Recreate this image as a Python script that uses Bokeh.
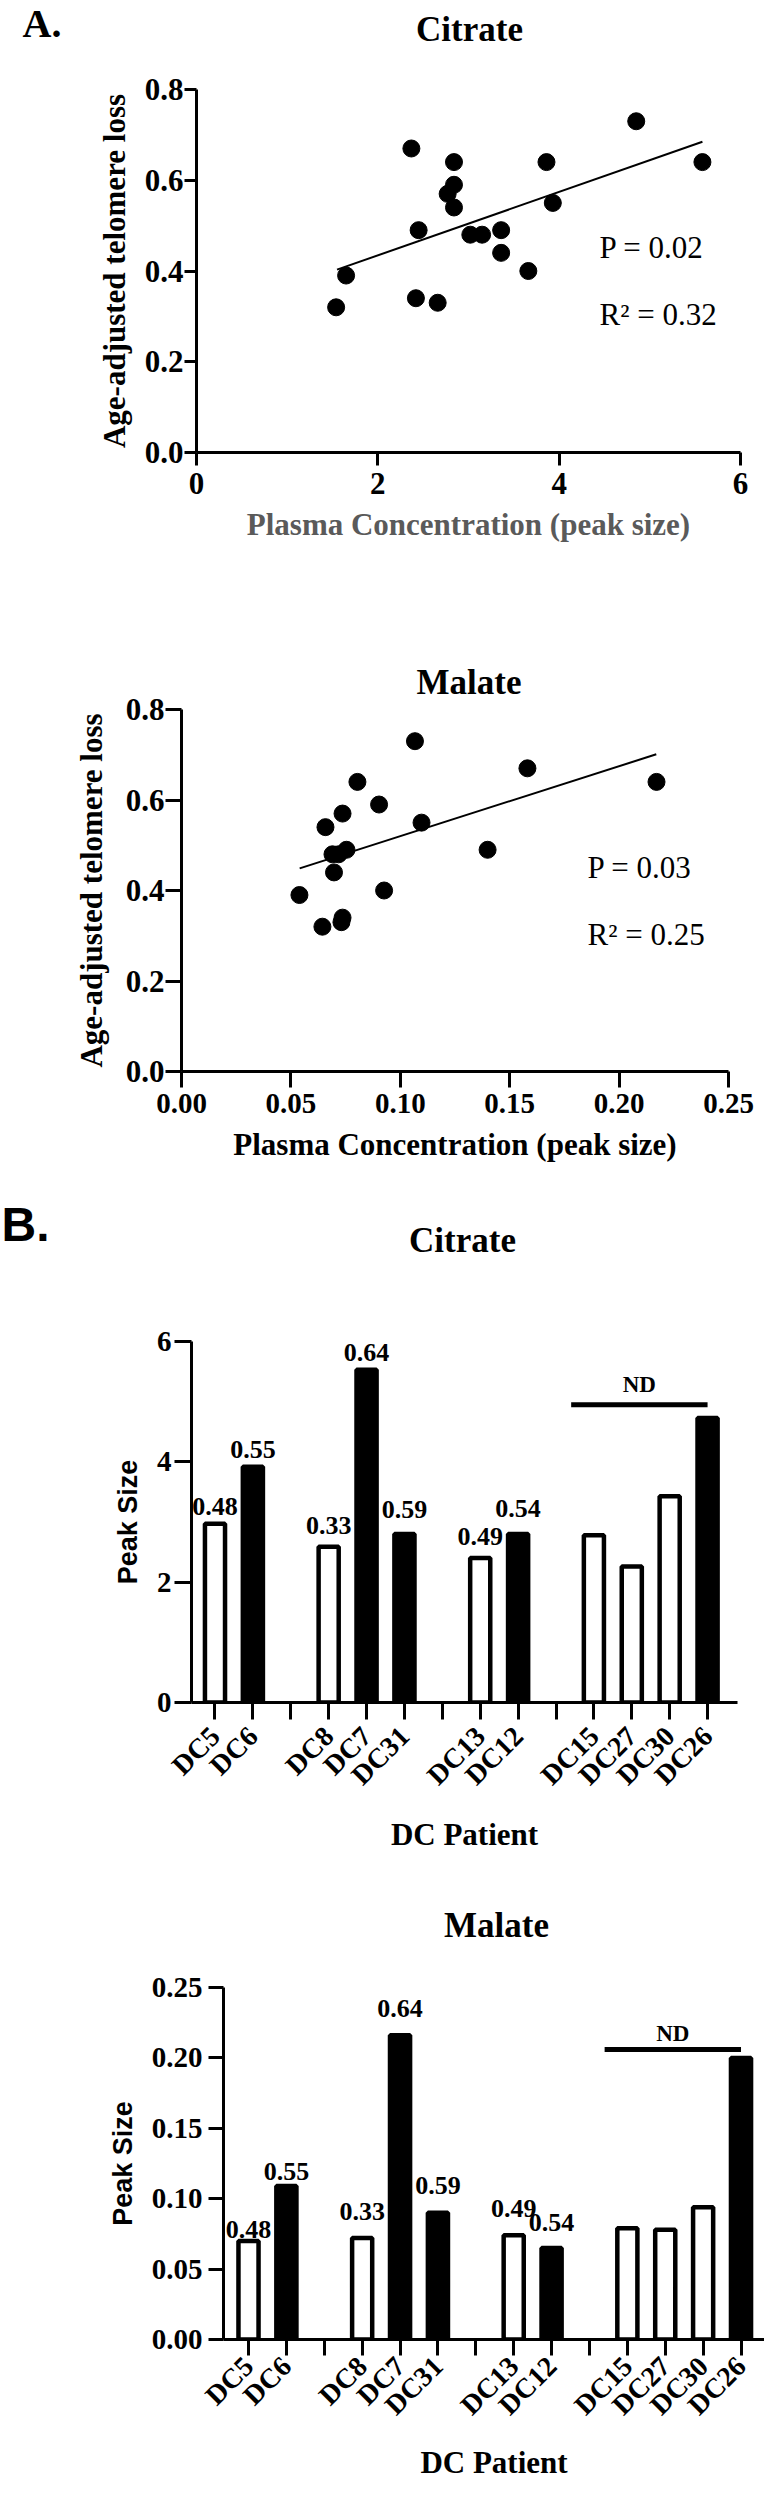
import math
from bokeh.plotting import figure
from bokeh.models import Range1d, FixedTicker, Label, ColumnDataSource, NumeralTickFormatter
from bokeh.core.properties import value
from bokeh.embed import file_html
from bokeh.resources import INLINE

SERIF = "Liberation Serif"
SANS = "Liberation Sans"
PAGE_W = 764

# ---------------- Panel A data ----------------
citrate_conc = [1.54, 1.65, 2.37, 2.42, 2.45, 2.66, 2.77, 2.84, 2.84, 2.84,
                3.02, 3.15, 3.36, 3.36, 3.66, 3.86, 3.93, 4.85, 5.58]
citrate_loss = [0.32, 0.39, 0.67, 0.34, 0.49, 0.33, 0.57, 0.64, 0.59, 0.54,
                0.48, 0.48, 0.49, 0.44, 0.40, 0.64, 0.55, 0.73, 0.64]
citrate_fit_x = [1.55, 5.58]
citrate_fit_y = [0.403, 0.685]
citrate_stats = ["P = 0.02", "R\u00b2 = 0.32"]

malate_conc = [0.0539, 0.0644, 0.0658, 0.0697, 0.0690, 0.0718, 0.0736, 0.0731, 0.0736,
               0.0754, 0.0804, 0.0903, 0.0926, 0.1067, 0.1097, 0.1399, 0.1581, 0.2171]
malate_loss = [0.39, 0.32, 0.54, 0.44, 0.48, 0.48, 0.57, 0.33, 0.34,
               0.49, 0.64, 0.59, 0.40, 0.73, 0.55, 0.49, 0.67, 0.64]
malate_fit_x = [0.054, 0.217]
malate_fit_y = [0.449, 0.701]
malate_stats = ["P = 0.03", "R\u00b2 = 0.25"]

scatter_x_title = "Plasma Concentration (peak size)"
scatter_y_title = "Age-adjusted telomere loss"

# ---------------- Panel B data ----------------
patient_groups = [["DC5", "DC6"], ["DC8", "DC7", "DC31"], ["DC13", "DC12"],
                  ["DC15", "DC27", "DC30", "DC26"]]
patients = ["DC5", "DC6", "DC8", "DC7", "DC31", "DC13", "DC12", "DC15", "DC27", "DC30", "DC26"]
filled = [False, True, False, True, True, False, True, False, False, False, True]
citrate_peak = [2.97, 3.92, 2.59, 5.53, 2.80, 2.40, 2.80, 2.78, 2.26, 3.43, 4.73]
malate_peak = [0.070, 0.109, 0.072, 0.216, 0.090, 0.074, 0.065, 0.079, 0.078, 0.094, 0.200]
telomere_labels = ["0.48", "0.55", "0.33", "0.64", "0.59", "0.49", "0.54", "", "", "", ""]
nd_patients = ["DC15", "DC27", "DC30", "DC26"]
citrate_nd_level = 4.95
malate_nd_level = 0.206

# label placement (pixels above each bar top) - styling, not data
citrate_label_lift = [17, 17, 21, 17, 25, 22, 26, 0, 0, 0, 0]
malate_label_lift = [11, 15, 27, 27, 27, 27, 25, 0, 0, 0, 0]


def page_to_data(page, frame_a, frame_b, d_a, d_b):
    return d_a + (page - frame_a) * (d_b - d_a) / (frame_b - frame_a)


def header(top, height, items):
    """A blank strip holding panel letters and titles; positions given in page pixels."""
    h = figure(width=PAGE_W, height=height, x_range=Range1d(0, PAGE_W),
               y_range=Range1d(height, 0), x_axis_type=None, y_axis_type=None,
               min_border=0, toolbar_location=None, output_backend="svg")
    h.outline_line_color = None
    for (px, py, text, size, font, align) in items:
        h.text(x=[px - 8], y=[py - top], text=[text], text_font=value(font),
               text_font_size=size, text_font_style="bold", text_align=align,
               text_baseline="middle", text_color="black")
    return h


def make_fig(top, height, fl, fr, ft, fb, xr, yr):
    p = figure(width=PAGE_W, height=height, x_range=Range1d(*xr), y_range=Range1d(*yr),
               min_border_left=fl - 8, min_border_right=PAGE_W - (fr - 8),
               min_border_top=ft - top, min_border_bottom=top + height - fb,
               toolbar_location=None, output_backend="svg")
    p.grid.visible = False
    p.outline_line_color = None
    for ax in p.axis:
        ax.axis_line_width = 3
        ax.axis_line_color = "black"
        ax.major_tick_line_width = 3
        ax.major_tick_line_color = "black"
        ax.major_tick_in = 0
        ax.minor_tick_line_color = None
        ax.major_label_text_font = SERIF
        ax.major_label_text_font_style = "bold"
        ax.major_label_text_color = "black"
        ax.axis_label_text_font = SERIF
        ax.axis_label_text_font_style = "bold"
        ax.axis_label_text_color = "black"

    def put(px, py, text, size, style="bold"):
        x = page_to_data(px, fl, fr, xr[0], xr[1])
        y = page_to_data(py, fb, ft, yr[0], yr[1])
        p.add_layout(Label(x=x, y=y, text=text, text_font=SERIF, text_font_size=size,
                           text_font_style=style, text_align="left", text_baseline="middle",
                           text_color="black"))
    return p, put


def scatter_panel(top, height, fl, fr, ft, fb, xr, xticks, xfmt, xs, ys, fx, fy, stats,
                  stat_pos, xtitle_color, ytick_out, xtick_out,
                  y_std, y_als, x_std, x_als, xtick_size, ytick_size):
    p, put = make_fig(top, height, fl, fr, ft, fb, xr, (0, 0.8))
    p.scatter(xs, ys, size=17, color="black")
    p.line(fx, fy, line_width=2, color="black")
    p.xaxis.ticker = FixedTicker(ticks=xticks)
    p.xaxis.formatter = NumeralTickFormatter(format=xfmt)
    p.yaxis.ticker = FixedTicker(ticks=[0, 0.2, 0.4, 0.6, 0.8])
    p.yaxis.formatter = NumeralTickFormatter(format="0.0")
    p.xaxis.axis_label = scatter_x_title
    p.yaxis.axis_label = scatter_y_title
    p.xaxis.axis_label_text_color = xtitle_color
    p.xaxis.axis_label_text_font_size = "31px"
    p.yaxis.axis_label_text_font_size = "31px"
    p.xaxis.major_label_text_font_size = xtick_size
    p.yaxis.major_label_text_font_size = ytick_size
    p.yaxis.major_tick_out = ytick_out
    p.xaxis.major_tick_out = xtick_out
    p.yaxis.major_label_standoff = y_std
    p.yaxis.axis_label_standoff = y_als
    p.xaxis.major_label_standoff = x_std
    p.xaxis.axis_label_standoff = x_als
    put(stat_pos[0], stat_pos[1], stats[0], "31px", style="normal")
    put(stat_pos[0], stat_pos[2], stats[1], "31px", style="normal")
    return p


def bar_panel(top, height, fl, fr, ft, fb, xr, yr, yticks, yfmt, peaks, lifts, nd_level,
              nd_lift, ytick_out, xtick_out, y_std, y_als, x_std, x_als):
    p, put = make_fig(top, height, fl, fr, ft, fb, xr, yr)
    slot_of, ticks, s = {}, [], 0
    for gi, grp in enumerate(patient_groups):
        if gi > 0:
            ticks.append(s)
            s += 1
        for name in grp:
            slot_of[name] = s
            ticks.append(s)
            s += 1
    overrides = {t: "" for t in ticks}
    for name, pos in slot_of.items():
        overrides[pos] = name
    src = ColumnDataSource(dict(
        x=[slot_of[n] for n in patients], top=peaks,
        fill=["black" if f else "white" for f in filled], label=telomere_labels,
        off=[-v for v in lifts]))
    p.vbar(x="x", top="top", bottom=0, width=0.53, fill_color="fill",
           line_color="black", line_width=4.5, source=src)
    p.text(x="x", y="top", text="label", source=src, text_font=value(SERIF),
           text_font_style="bold", text_font_size="26px", text_align="center",
           text_baseline="middle", y_offset="off", text_color="black")
    x0 = slot_of[nd_patients[0]] - 0.6
    x1 = slot_of[nd_patients[-1]]
    p.line([x0, x1], [nd_level, nd_level], line_width=5, color="black")
    p.text(x=[(x0 + x1) / 2], y=[nd_level], text=["ND"], text_font=value(SERIF),
           text_font_style="bold", text_font_size="23px", text_align="center",
           text_baseline="middle", y_offset=-nd_lift, text_color="black")
    p.xaxis.ticker = FixedTicker(ticks=ticks)
    p.xaxis.major_label_overrides = overrides
    p.xaxis.major_label_orientation = math.pi / 4
    p.xaxis.major_label_text_font_size = "28px"
    p.yaxis.ticker = FixedTicker(ticks=yticks)
    p.yaxis.formatter = NumeralTickFormatter(format=yfmt)
    p.yaxis.major_label_text_font_size = "29px"
    p.xaxis.axis_label = "DC Patient"
    p.xaxis.axis_label_text_font_size = "31px"
    p.yaxis.axis_label = "Peak Size"
    p.yaxis.axis_label_text_font = SANS
    p.yaxis.axis_label_text_font_size = "27px"
    p.yaxis.major_tick_out = ytick_out
    p.xaxis.major_tick_out = xtick_out
    p.yaxis.major_label_standoff = y_std
    p.yaxis.axis_label_standoff = y_als
    p.xaxis.major_label_standoff = x_std
    p.xaxis.axis_label_standoff = x_als
    return p


# Each block is its own root so that Bokeh does not align the frames of different panels.
h1 = header(8, 70, [(30, 31, "A.", "40px", SERIF, "left"),
                    (477, 37, "Citrate", "35px", SERIF, "center")])
p1 = scatter_panel(78, 522, 204, 748, 97, 460, (0, 6), [0, 2, 4, 6], "0",
                   citrate_conc, citrate_loss, citrate_fit_x, citrate_fit_y, citrate_stats,
                   (607, 255, 322), "#5a5a5a",
                   12, 13, 1, 10, 7, 10, "31px", "31px")
p2 = scatter_panel(600, 595, 189, 736, 717, 1079, (0, 0.25),
                   [0, 0.05, 0.10, 0.15, 0.20, 0.25], "0.00",
                   malate_conc, malate_loss, malate_fit_x, malate_fit_y, malate_stats,
                   (595, 875, 942), "black",
                   16, 16, 1, 14, 6, 11, "29px", "31px")
p2.title.text = "Malate"
p2.title.text_font = SERIF
p2.title.text_font_size = "35px"
p2.title.text_font_style = "bold"
p2.title.text_color = "black"
p2.title.align = "left"
p2.title.offset = 235
p2.title.vertical_align = "bottom"
p2.title.standoff = 16
h3 = header(1195, 80, [(9, 1232, "B.", "48px", SANS, "left"),
                       (470, 1248, "Citrate", "35px", SERIF, "center")])
p3 = bar_panel(1275, 595, 199, 745, 1349, 1710, (-0.62, 13.79), (0, 6), [0, 2, 4, 6], "0",
               citrate_peak, citrate_label_lift, citrate_nd_level, 20,
               17, 17, 3, 11, 12, 12)
h4 = header(1870, 92, [(504, 1933, "Malate", "35px", SERIF, "center")])
p4 = bar_panel(1962, 528, 231, 772, 1995, 2358, (-0.66, 13.62), (0, 0.25),
               [0, 0.05, 0.10, 0.15, 0.20, 0.25], "0.00",
               malate_peak, malate_label_lift, malate_nd_level, 16,
               15, 16, 6, 11, 6, 10)

open("out.html", "w").write(file_html([h1, p1, p2, h3, p3, h4, p4], INLINE))
